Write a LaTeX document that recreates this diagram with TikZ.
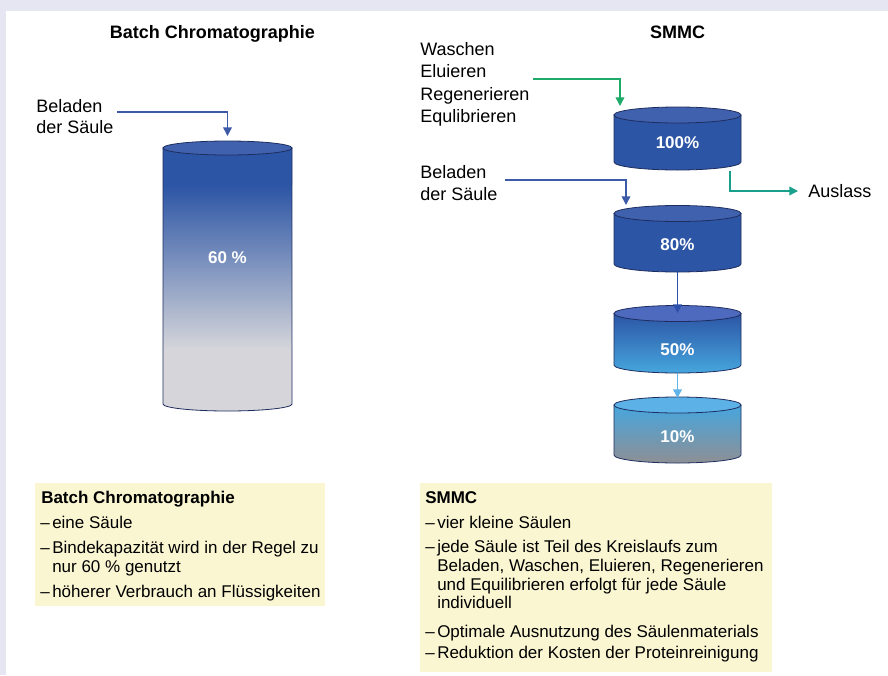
\documentclass[tikz,border=0pt]{standalone}
\usepackage{fontspec}
\setmainfont{Liberation Sans}
\usetikzlibrary{arrows.meta}

\definecolor{frame}{RGB}{230,230,242}
\definecolor{note}{RGB}{250,246,210}
\definecolor{darkblue}{RGB}{44,85,165}
\definecolor{capblue}{RGB}{64,98,174}
\definecolor{caplite}{RGB}{78,106,190}
\definecolor{rimline}{RGB}{30,45,95}
\definecolor{skyblue}{RGB}{70,166,222}
\definecolor{capsky}{RGB}{92,178,230}
\definecolor{palegray}{RGB}{214,214,218}
\definecolor{midgray}{RGB}{142,143,148}
\definecolor{flowgreen}{RGB}{30,170,105}
\definecolor{flowteal}{RGB}{25,160,140}
\definecolor{flowblue}{RGB}{60,90,168}
\definecolor{flowmid}{RGB}{45,80,170}
\definecolor{flowlight}{RGB}{95,180,232}

% body outline of a column: centre x, half width, top and bottom rim heights, rim radius
\newcommand\cylbody[5]{(#1-#2,-#3) -- (#1-#2,-#4) arc[start angle=180,end angle=360,x radius=#2,y radius=#5] -- (#1+#2,-#3) -- cycle}
% list item with a leading dash
\newcommand\itm[1]{\makebox[9pt][l]{–}#1}

\tikzset{
  lbl/.style={anchor=base west, inner sep=0pt, font=\fontsize{13.5}{16}\selectfont},
  ttl/.style={anchor=base, inner sep=0pt, font=\fontsize{13.5}{16}\selectfont\bfseries},
  pct/.style={text=white, inner sep=0pt, font=\fontsize{12.75}{15}\selectfont\bfseries},
  txt/.style={anchor=base west, inner sep=0pt, font=\fontsize{12.75}{15}\selectfont},
  hdr/.style={anchor=base west, inner sep=0pt, font=\fontsize{12.75}{15}\selectfont\bfseries},
  flow/.style={line width=1.1pt, -{Triangle[width=6.5pt,length=6.5pt]}},
  rim/.style={draw=rimline, line width=0.6pt},
}

\begin{document}
\begin{tikzpicture}[x=0.75pt,y=0.75pt]
% page frame
\fill[frame] (0,0) rectangle (888,-675);
\fill[white] (6,-11) rectangle (888,-675);
\useasboundingbox (0,0) rectangle (888,-675);

% headings
\node[ttl] (tbatch) at (212.5,-38) {Batch Chromatographie};
\node[ttl] (tsmmc) at (677.5,-38) {SMMC};

% ---- batch column ----
\begin{scope}
  \clip \cylbody{227.5}{64.5}{148}{404}{7};
  \fill[darkblue] (150,-135) rectangle (300,-185);
  \shade[top color=darkblue, bottom color=palegray] (150,-185) rectangle (300,-350);
  \fill[palegray] (150,-350) rectangle (300,-420);
\end{scope}
\draw[rim] \cylbody{227.5}{64.5}{148}{404}{7};
\filldraw[fill=capblue, rim] (227.5,-148) ellipse[x radius=64.5, y radius=7];
\node[pct] (p60) at (227.5,-258) {60 \%};
\coordinate (c60in) at (227.5,-136);

\node[lbl] (bl1) at (36,-112) {Beladen};
\node[lbl] (bl2) at (36,-133) {der Säule};
\coordinate (bl0) at (117,-112);
\draw[flow, flowblue] (bl0) -| (c60in);

% ---- SMMC columns ----
% 100 %
\fill[darkblue] \cylbody{677.5}{63.5}{115}{162}{8};
\draw[rim] \cylbody{677.5}{63.5}{115}{162}{8};
\filldraw[fill=capblue, rim] (677.5,-115) ellipse[x radius=63.5, y radius=8];
\node[pct] (p100) at (677.5,-143) {100\%};

% 80 %
\fill[darkblue] \cylbody{677.5}{63.5}{213.5}{264}{8};
\draw[rim] \cylbody{677.5}{63.5}{213.5}{264}{8};
\filldraw[fill=capblue, rim] (677.5,-213.5) ellipse[x radius=63.5, y radius=8];
\node[pct] (p80) at (677.5,-245) {80\%};

% 50 %
\shade[top color=darkblue, bottom color=skyblue] \cylbody{677.5}{63.5}{313.5}{365}{8};
\draw[rim] \cylbody{677.5}{63.5}{313.5}{365}{8};
\filldraw[fill=caplite, rim] (677.5,-313.5) ellipse[x radius=63.5, y radius=8];
\node[pct] (p50) at (677.5,-350) {50\%};

% 10 %
\shade[top color=skyblue, bottom color=midgray] \cylbody{677.5}{63.5}{405}{455}{8};
\draw[rim] \cylbody{677.5}{63.5}{405}{455}{8};
\filldraw[fill=capsky, rim] (677.5,-405) ellipse[x radius=63.5, y radius=8];
\node[pct] (p10) at (677.5,-437) {10\%};

% connection points on the columns
\coordinate (c100in) at (620,-106);
\coordinate (c100out) at (730,-171);
\coordinate (c80in) at (626,-205);
\coordinate (c80out) at (677.5,-272);
\coordinate (c50in) at (677.5,-313);
\coordinate (c50out) at (677.5,-373);
\coordinate (c10in) at (677.5,-398);

% process labels
\node[lbl] (w1) at (420,-55) {Waschen};
\node[lbl] (w2) at (420,-77.5) {Eluieren};
\node[lbl] (w3) at (420,-100) {Regenerieren};
\node[lbl] (w4) at (420,-122.5) {Equlibrieren};
\coordinate (w0) at (533,-79);
\draw[flow, flowgreen] (w0) -| (c100in);

\node[lbl] (br1) at (420,-178) {Beladen};
\node[lbl] (br2) at (420,-200.5) {der Säule};
\coordinate (br0) at (505,-180);
\draw[flow, flowblue] (br0) -| (c80in);

\node[lbl, anchor=west] (out) at (808,-191) {Auslass};
\coordinate (outtip) at (798,-191);
\draw[flow, flowteal] (c100out) |- (outtip);

\draw[flow, flowmid] (c80out) -- (c50in);
\draw[flow, flowlight] (c50out) -- (c10in);

% ---- notes ----
\fill[note] (35,-483) rectangle (325,-606);
\node[hdr] (nb0) at (41,-503) {Batch Chromatographie};
\node[txt] (nb1) at (40,-528) {\itm{eine Säule}};
\node[txt] (nb2) at (40,-553) {\itm{Bindekapazität wird in der Regel zu}};
\node[txt] (nb3) at (52,-572) {nur 60 \% genutzt};
\node[txt] (nb4) at (40,-597) {\itm{höherer Verbrauch an Flüssigkeiten}};

\fill[note] (420,-483) rectangle (772,-672);
\node[hdr] (ns0) at (425,-503) {SMMC};
\node[txt] (ns1) at (425,-528) {\itm{vier kleine Säulen}};
\node[txt] (ns2) at (425,-552.5) {\itm{jede Säule ist Teil des Kreislaufs zum}};
\node[txt] (ns3) at (437,-571) {Beladen, Waschen, Eluieren, Regenerieren};
\node[txt] (ns4) at (437,-590) {und Equilibrieren erfolgt für jede Säule};
\node[txt] (ns5) at (437,-608.5) {individuell};
\node[txt] (ns6) at (425,-637) {\itm{Optimale Ausnutzung des Säulenmaterials}};
\node[txt] (ns7) at (425,-658) {\itm{Reduktion der Kosten der Proteinreinigung}};
\end{tikzpicture}
\end{document}
